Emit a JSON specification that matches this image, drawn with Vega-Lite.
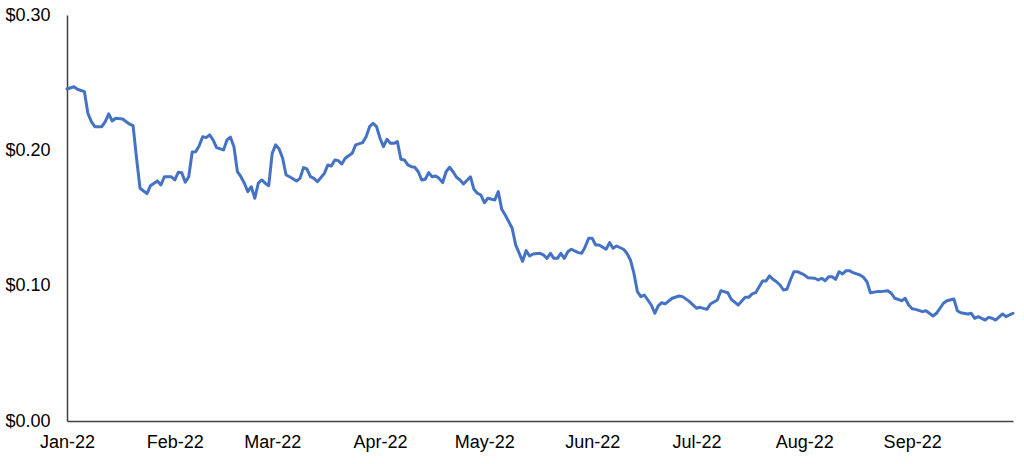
{
  "$schema": "https://vega.github.io/schema/vega-lite/v6.json",
  "width": 946,
  "height": 406,
  "autosize": {"type": "none"},
  "padding": {"left": 67, "top": 15, "right": 11, "bottom": 43},
  "background": "white",
  "config": {"view": {"stroke": null}, "font": "Liberation Sans"},
  "data": {"values": [
    {"date": "2022-01-01", "price": 0.2453},
    {"date": "2022-01-03", "price": 0.2470},
    {"date": "2022-01-04", "price": 0.2451},
    {"date": "2022-01-06", "price": 0.2434},
    {"date": "2022-01-07", "price": 0.2274},
    {"date": "2022-01-08", "price": 0.2212},
    {"date": "2022-01-09", "price": 0.2175},
    {"date": "2022-01-11", "price": 0.2175},
    {"date": "2022-01-12", "price": 0.2212},
    {"date": "2022-01-13", "price": 0.2269},
    {"date": "2022-01-14", "price": 0.2217},
    {"date": "2022-01-15", "price": 0.2237},
    {"date": "2022-01-17", "price": 0.2232},
    {"date": "2022-01-19", "price": 0.2193},
    {"date": "2022-01-20", "price": 0.2182},
    {"date": "2022-01-21", "price": 0.1941},
    {"date": "2022-01-22", "price": 0.1720},
    {"date": "2022-01-24", "price": 0.1680},
    {"date": "2022-01-25", "price": 0.1739},
    {"date": "2022-01-27", "price": 0.1774},
    {"date": "2022-01-28", "price": 0.1744},
    {"date": "2022-01-29", "price": 0.1805},
    {"date": "2022-01-31", "price": 0.1805},
    {"date": "2022-02-01", "price": 0.1781},
    {"date": "2022-02-02", "price": 0.1838},
    {"date": "2022-02-03", "price": 0.1835},
    {"date": "2022-02-04", "price": 0.1764},
    {"date": "2022-02-05", "price": 0.1805},
    {"date": "2022-02-06", "price": 0.1988},
    {"date": "2022-02-07", "price": 0.1990},
    {"date": "2022-02-08", "price": 0.2034},
    {"date": "2022-02-09", "price": 0.2101},
    {"date": "2022-02-10", "price": 0.2094},
    {"date": "2022-02-11", "price": 0.2114},
    {"date": "2022-02-12", "price": 0.2077},
    {"date": "2022-02-13", "price": 0.2020},
    {"date": "2022-02-15", "price": 0.2003},
    {"date": "2022-02-16", "price": 0.2077},
    {"date": "2022-02-17", "price": 0.2097},
    {"date": "2022-02-18", "price": 0.2027},
    {"date": "2022-02-19", "price": 0.1842},
    {"date": "2022-02-20", "price": 0.1805},
    {"date": "2022-02-21", "price": 0.1757},
    {"date": "2022-02-22", "price": 0.1695},
    {"date": "2022-02-23", "price": 0.1731},
    {"date": "2022-02-24", "price": 0.1646},
    {"date": "2022-02-25", "price": 0.1757},
    {"date": "2022-02-26", "price": 0.1781},
    {"date": "2022-02-27", "price": 0.1757},
    {"date": "2022-02-28", "price": 0.1739},
    {"date": "2022-03-01", "price": 0.1978},
    {"date": "2022-03-02", "price": 0.2040},
    {"date": "2022-03-03", "price": 0.2010},
    {"date": "2022-03-04", "price": 0.1941},
    {"date": "2022-03-05", "price": 0.1818},
    {"date": "2022-03-06", "price": 0.1805},
    {"date": "2022-03-08", "price": 0.1774},
    {"date": "2022-03-09", "price": 0.1793},
    {"date": "2022-03-10", "price": 0.1872},
    {"date": "2022-03-11", "price": 0.1862},
    {"date": "2022-03-12", "price": 0.1805},
    {"date": "2022-03-13", "price": 0.1793},
    {"date": "2022-03-14", "price": 0.1768},
    {"date": "2022-03-16", "price": 0.1830},
    {"date": "2022-03-17", "price": 0.1892},
    {"date": "2022-03-18", "price": 0.1884},
    {"date": "2022-03-19", "price": 0.1929},
    {"date": "2022-03-20", "price": 0.1924},
    {"date": "2022-03-21", "price": 0.1899},
    {"date": "2022-03-22", "price": 0.1941},
    {"date": "2022-03-24", "price": 0.1978},
    {"date": "2022-03-25", "price": 0.2040},
    {"date": "2022-03-27", "price": 0.2057},
    {"date": "2022-03-28", "price": 0.2101},
    {"date": "2022-03-29", "price": 0.2175},
    {"date": "2022-03-30", "price": 0.2200},
    {"date": "2022-03-31", "price": 0.2175},
    {"date": "2022-04-01", "price": 0.2089},
    {"date": "2022-04-02", "price": 0.2027},
    {"date": "2022-04-03", "price": 0.2082},
    {"date": "2022-04-04", "price": 0.2052},
    {"date": "2022-04-05", "price": 0.2052},
    {"date": "2022-04-06", "price": 0.2064},
    {"date": "2022-04-07", "price": 0.1934},
    {"date": "2022-04-08", "price": 0.1929},
    {"date": "2022-04-09", "price": 0.1892},
    {"date": "2022-04-10", "price": 0.1879},
    {"date": "2022-04-11", "price": 0.1875},
    {"date": "2022-04-12", "price": 0.1842},
    {"date": "2022-04-13", "price": 0.1781},
    {"date": "2022-04-14", "price": 0.1786},
    {"date": "2022-04-15", "price": 0.1835},
    {"date": "2022-04-16", "price": 0.1805},
    {"date": "2022-04-17", "price": 0.1810},
    {"date": "2022-04-18", "price": 0.1793},
    {"date": "2022-04-19", "price": 0.1761},
    {"date": "2022-04-20", "price": 0.1842},
    {"date": "2022-04-21", "price": 0.1875},
    {"date": "2022-04-22", "price": 0.1842},
    {"date": "2022-04-23", "price": 0.1801},
    {"date": "2022-04-24", "price": 0.1781},
    {"date": "2022-04-25", "price": 0.1751},
    {"date": "2022-04-27", "price": 0.1805},
    {"date": "2022-04-28", "price": 0.1712},
    {"date": "2022-04-29", "price": 0.1683},
    {"date": "2022-04-30", "price": 0.1670},
    {"date": "2022-05-01", "price": 0.1613},
    {"date": "2022-05-02", "price": 0.1646},
    {"date": "2022-05-04", "price": 0.1633},
    {"date": "2022-05-05", "price": 0.1695},
    {"date": "2022-05-06", "price": 0.1564},
    {"date": "2022-05-07", "price": 0.1522},
    {"date": "2022-05-09", "price": 0.1424},
    {"date": "2022-05-10", "price": 0.1301},
    {"date": "2022-05-12", "price": 0.1180},
    {"date": "2022-05-13", "price": 0.1259},
    {"date": "2022-05-14", "price": 0.1219},
    {"date": "2022-05-15", "price": 0.1234},
    {"date": "2022-05-17", "price": 0.1239},
    {"date": "2022-05-18", "price": 0.1227},
    {"date": "2022-05-19", "price": 0.1202},
    {"date": "2022-05-20", "price": 0.1239},
    {"date": "2022-05-21", "price": 0.1202},
    {"date": "2022-05-22", "price": 0.1202},
    {"date": "2022-05-23", "price": 0.1239},
    {"date": "2022-05-24", "price": 0.1202},
    {"date": "2022-05-25", "price": 0.1251},
    {"date": "2022-05-26", "price": 0.1269},
    {"date": "2022-05-28", "price": 0.1244},
    {"date": "2022-05-29", "price": 0.1239},
    {"date": "2022-05-30", "price": 0.1288},
    {"date": "2022-05-31", "price": 0.1350},
    {"date": "2022-06-01", "price": 0.1350},
    {"date": "2022-06-02", "price": 0.1301},
    {"date": "2022-06-03", "price": 0.1301},
    {"date": "2022-06-05", "price": 0.1269},
    {"date": "2022-06-06", "price": 0.1318},
    {"date": "2022-06-07", "price": 0.1276},
    {"date": "2022-06-08", "price": 0.1293},
    {"date": "2022-06-10", "price": 0.1269},
    {"date": "2022-06-11", "price": 0.1239},
    {"date": "2022-06-12", "price": 0.1190},
    {"date": "2022-06-13", "price": 0.1092},
    {"date": "2022-06-14", "price": 0.0956},
    {"date": "2022-06-15", "price": 0.0919},
    {"date": "2022-06-16", "price": 0.0931},
    {"date": "2022-06-17", "price": 0.0894},
    {"date": "2022-06-18", "price": 0.0857},
    {"date": "2022-06-19", "price": 0.0796},
    {"date": "2022-06-20", "price": 0.0850},
    {"date": "2022-06-21", "price": 0.0874},
    {"date": "2022-06-22", "price": 0.0865},
    {"date": "2022-06-24", "price": 0.0907},
    {"date": "2022-06-26", "price": 0.0924},
    {"date": "2022-06-27", "price": 0.0919},
    {"date": "2022-06-29", "price": 0.0882},
    {"date": "2022-07-01", "price": 0.0833},
    {"date": "2022-07-02", "price": 0.0840},
    {"date": "2022-07-04", "price": 0.0825},
    {"date": "2022-07-05", "price": 0.0865},
    {"date": "2022-07-07", "price": 0.0894},
    {"date": "2022-07-08", "price": 0.0963},
    {"date": "2022-07-10", "price": 0.0948},
    {"date": "2022-07-11", "price": 0.0899},
    {"date": "2022-07-13", "price": 0.0857},
    {"date": "2022-07-15", "price": 0.0914},
    {"date": "2022-07-16", "price": 0.0914},
    {"date": "2022-07-17", "price": 0.0939},
    {"date": "2022-07-18", "price": 0.0948},
    {"date": "2022-07-20", "price": 0.1035},
    {"date": "2022-07-21", "price": 0.1035},
    {"date": "2022-07-22", "price": 0.1072},
    {"date": "2022-07-23", "price": 0.1047},
    {"date": "2022-07-24", "price": 0.1029},
    {"date": "2022-07-25", "price": 0.1005},
    {"date": "2022-07-26", "price": 0.0968},
    {"date": "2022-07-27", "price": 0.0973},
    {"date": "2022-07-28", "price": 0.1042},
    {"date": "2022-07-29", "price": 0.1103},
    {"date": "2022-07-30", "price": 0.1103},
    {"date": "2022-08-01", "price": 0.1079},
    {"date": "2022-08-02", "price": 0.1059},
    {"date": "2022-08-04", "price": 0.1055},
    {"date": "2022-08-05", "price": 0.1042},
    {"date": "2022-08-06", "price": 0.1055},
    {"date": "2022-08-07", "price": 0.1037},
    {"date": "2022-08-08", "price": 0.1066},
    {"date": "2022-08-09", "price": 0.1066},
    {"date": "2022-08-10", "price": 0.1047},
    {"date": "2022-08-11", "price": 0.1103},
    {"date": "2022-08-12", "price": 0.1086},
    {"date": "2022-08-13", "price": 0.1111},
    {"date": "2022-08-14", "price": 0.1111},
    {"date": "2022-08-15", "price": 0.1096},
    {"date": "2022-08-17", "price": 0.1079},
    {"date": "2022-08-18", "price": 0.1062},
    {"date": "2022-08-19", "price": 0.1029},
    {"date": "2022-08-20", "price": 0.0948},
    {"date": "2022-08-22", "price": 0.0956},
    {"date": "2022-08-23", "price": 0.0956},
    {"date": "2022-08-25", "price": 0.0963},
    {"date": "2022-08-26", "price": 0.0944},
    {"date": "2022-08-27", "price": 0.0907},
    {"date": "2022-08-29", "price": 0.0889},
    {"date": "2022-08-30", "price": 0.0907},
    {"date": "2022-08-31", "price": 0.0857},
    {"date": "2022-09-01", "price": 0.0830},
    {"date": "2022-09-02", "price": 0.0825},
    {"date": "2022-09-04", "price": 0.0808},
    {"date": "2022-09-05", "price": 0.0815},
    {"date": "2022-09-07", "price": 0.0776},
    {"date": "2022-09-08", "price": 0.0796},
    {"date": "2022-09-10", "price": 0.0870},
    {"date": "2022-09-11", "price": 0.0889},
    {"date": "2022-09-13", "price": 0.0902},
    {"date": "2022-09-14", "price": 0.0815},
    {"date": "2022-09-15", "price": 0.0800},
    {"date": "2022-09-17", "price": 0.0791},
    {"date": "2022-09-18", "price": 0.0796},
    {"date": "2022-09-19", "price": 0.0759},
    {"date": "2022-09-20", "price": 0.0771},
    {"date": "2022-09-22", "price": 0.0746},
    {"date": "2022-09-23", "price": 0.0766},
    {"date": "2022-09-24", "price": 0.0759},
    {"date": "2022-09-25", "price": 0.0746},
    {"date": "2022-09-27", "price": 0.0791},
    {"date": "2022-09-28", "price": 0.0771},
    {"date": "2022-09-30", "price": 0.0796}
  ]},
  "mark": {"type": "line", "color": "#4472C4", "strokeWidth": 3, "strokeJoin": "round", "strokeCap": "round"},
  "encoding": {
    "x": {
      "field": "date",
      "type": "temporal",
      "scale": {
        "type": "utc",
        "domain": [
          {"year": 2022, "month": 1, "date": 1, "utc": true},
          {"year": 2022, "month": 9, "date": 30, "utc": true}
        ]
      },
      "axis": {
        "title": null,
        "format": "%b-%y",
        "tickCount": {"interval": "month", "step": 1},
        "grid": false,
        "ticks": false,
        "tickSize": 0,
        "labelPadding": 12,
        "labelFlush": false,
        "labelOverlap": false,
        "labelFontSize": 18,
        "labelColor": "#000000",
        "labelFont": "Liberation Sans",
        "domainColor": "#404040",
        "domainWidth": 1.5
      }
    },
    "y": {
      "field": "price",
      "type": "quantitative",
      "scale": {"domain": [0, 0.3], "nice": false, "zero": true},
      "axis": {
        "title": null,
        "values": [0, 0.1, 0.2, 0.3],
        "format": "$.2f",
        "grid": false,
        "ticks": false,
        "tickSize": 0,
        "labelPadding": 17,
        "labelFontSize": 18,
        "labelColor": "#000000",
        "labelFont": "Liberation Sans",
        "domainColor": "#404040",
        "domainWidth": 1.5
      }
    }
  }
}
